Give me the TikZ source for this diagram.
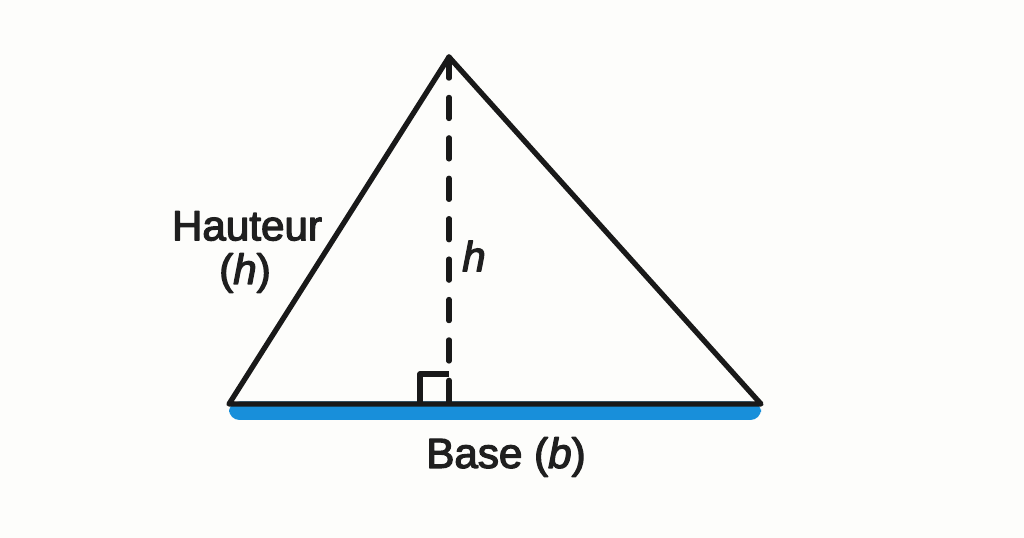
\documentclass[tikz,border=0pt]{standalone}
\usepackage{fontspec}
\newfontfamily\lblfont[FakeBold=3]{Liberation Sans}
\usetikzlibrary{calc,positioning}
\definecolor{basecol}{RGB}{24,143,218}
\definecolor{paper}{RGB}{253,253,251}

\begin{document}
\begin{tikzpicture}[line join=round,
	side/.style={line width=3pt, black!90},
	lbl/.style={font=\lblfont\fontsize{24}{28}\selectfont, text=black!88, inner sep=0pt}]

\fill[paper] (0,0) rectangle (20.48,10.76);
\useasboundingbox (0,0) rectangle (20.48,10.76);

\coordinate (apex) at (8.98, 9.62);
\coordinate (bl) at (4.58, 2.68);
\coordinate (br) at (15.22, 2.68);
\coordinate (foot) at (apex |- bl);

% base band
\fill[basecol, rounded corners=6pt] ($(bl)+(0,0.05)$) rectangle ($(br)+(0,-0.32)$);

% triangle
\draw[side] (bl) -- (apex) -- (br) -- cycle;

% height
\draw[side, line cap=round, dash pattern=on 12pt off 11pt] (apex) -- (foot);
\draw[side] ($(foot)+(-0.58,0)$) |- ($(foot)+(0,0.6)$);

\node (hauteur) at (4.94, 6.24) [lbl] {Hauteur};
\node (hauteurh) at (4.90, 5.30) [lbl] {(\textit{h})};
\node (hlabel) at (9.48, 5.64) [lbl] {\textit{h}};
\node (base) at (10.12, 1.62) [lbl] {Base (\textit{b})};

\end{tikzpicture}
\end{document}
